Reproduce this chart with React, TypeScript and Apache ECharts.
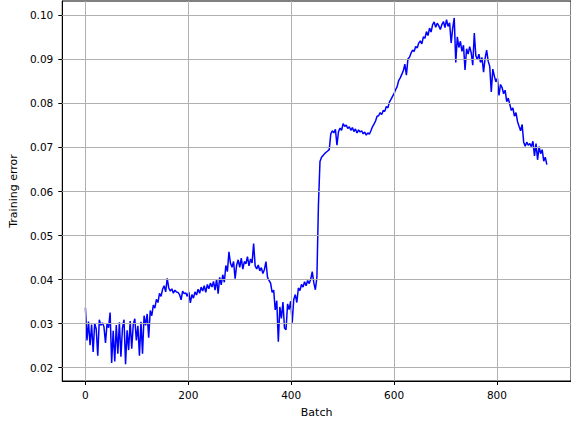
import React, { useEffect, useRef } from "react";
import * as echarts from "echarts";

// Training error, read every 3 batches (batch 0, 3, 6, ... 897)
const BATCH_STEP = 3;
const trainingError: number[] = [
  0.0336, 0.0262, 0.0305, 0.0251, 0.0298, 0.0236, 0.0301, 0.0288, 0.0227, 0.0309,
  0.0296, 0.0302, 0.0293, 0.0256, 0.0300, 0.0291, 0.0325, 0.0211, 0.0284, 0.0214,
  0.0297, 0.0232, 0.0303, 0.0225, 0.0290, 0.0309, 0.0208, 0.0285, 0.0240, 0.0306,
  0.0243, 0.0298, 0.0311, 0.0262, 0.0295, 0.0227, 0.0304, 0.0232, 0.0318, 0.0296,
  0.0322, 0.0268, 0.0330, 0.0318, 0.0342, 0.0335, 0.0355, 0.0348, 0.0369, 0.0362,
  0.0378, 0.0386, 0.0372, 0.0403, 0.0381, 0.0374, 0.0379, 0.0369, 0.0376, 0.0372,
  0.0371, 0.0366, 0.0354, 0.0374, 0.0368, 0.0370, 0.0362, 0.0372, 0.0347, 0.0366,
  0.0358, 0.0372, 0.0365, 0.0378, 0.0369, 0.0383, 0.0374, 0.0386, 0.0371, 0.0389,
  0.0379, 0.0392, 0.0383, 0.0396, 0.0376, 0.0401, 0.0368, 0.0405, 0.0388, 0.0411,
  0.0394, 0.0432, 0.0418, 0.0463, 0.0437, 0.0428, 0.0441, 0.0402, 0.0433, 0.0445,
  0.0428, 0.0449, 0.0424, 0.0441, 0.0436, 0.0452, 0.0431, 0.0447, 0.0438, 0.0482,
  0.0431, 0.0424, 0.0433, 0.0420, 0.0427, 0.0414, 0.0423, 0.0441, 0.0405, 0.0398,
  0.0392, 0.0371, 0.0376, 0.0331, 0.0352, 0.0259, 0.0338, 0.0312, 0.0349, 0.0290,
  0.0286, 0.0345, 0.0332, 0.0351, 0.0302, 0.0355, 0.0366, 0.0348, 0.0381, 0.0375,
  0.0389, 0.0383, 0.0395, 0.0386, 0.0398, 0.0391, 0.0401, 0.0418, 0.0393, 0.0377,
  0.0405, 0.0570, 0.0668, 0.0678, 0.0682, 0.0686, 0.0689, 0.0692, 0.0695, 0.0731,
  0.0738, 0.0733, 0.0741, 0.0705, 0.0736, 0.0744, 0.0739, 0.0754, 0.0748, 0.0751,
  0.0743, 0.0747, 0.0739, 0.0745, 0.0736, 0.0742, 0.0733, 0.0740, 0.0735, 0.0738,
  0.0731, 0.0735, 0.0728, 0.0733, 0.0730, 0.0738, 0.0747, 0.0753, 0.0760, 0.0771,
  0.0772, 0.0779, 0.0775, 0.0784, 0.0782, 0.0793, 0.0790, 0.0803, 0.0809, 0.0816,
  0.0822, 0.0831, 0.0838, 0.0852, 0.0858, 0.0866, 0.0874, 0.0889, 0.0864, 0.0901,
  0.0905, 0.0914, 0.0921, 0.0918, 0.0929, 0.0926, 0.0937, 0.0942, 0.0935, 0.0951,
  0.0948, 0.0963, 0.0954, 0.0971, 0.0962, 0.0979, 0.0985, 0.0973, 0.0982, 0.0976,
  0.0968, 0.0979, 0.0986, 0.0972, 0.0990, 0.0975, 0.0983, 0.0937, 0.0971, 0.0994,
  0.0893, 0.0951, 0.0927, 0.0941, 0.0918, 0.0932, 0.0876, 0.0924, 0.0912, 0.0929,
  0.0915, 0.0887, 0.0960, 0.0908, 0.0899, 0.0912, 0.0893, 0.0904, 0.0871, 0.0902,
  0.0921, 0.0896, 0.0884, 0.0826, 0.0878, 0.0862, 0.0849, 0.0857, 0.0818, 0.0843,
  0.0836, 0.0822, 0.0830, 0.0804, 0.0812, 0.0798, 0.0784, 0.0790, 0.0771, 0.0779,
  0.0759, 0.0748, 0.0738, 0.0752, 0.0712, 0.0703, 0.0712, 0.0705, 0.0709, 0.0702,
  0.0714, 0.0681, 0.0709, 0.0672, 0.0702, 0.0686, 0.0695, 0.0669, 0.0678, 0.0661,
];

const xTicks = [0, 200, 400, 600, 800];
const yTicks = [0.02, 0.03, 0.04, 0.05, 0.06, 0.07, 0.08, 0.09, 0.1];
const X_MIN = -45;
const X_MAX = 944;
const Y_MIN = 0.01698;
const Y_MAX = 0.10325;

const FONT = "DejaVu Sans";

export default function App() {
  const ref = useRef<HTMLDivElement>(null);

  useEffect(() => {
    if (!ref.current) return;
    const chart = echarts.init(ref.current, null, { renderer: "svg" });
    const points = trainingError.map((v, i) => [i * BATCH_STEP, v]);

    chart.setOption({
      animation: false,
      backgroundColor: "#ffffff",
      grid: {
        left: 62,
        top: 1,
        width: 512,
        height: 380,
        show: true,
        borderColor: "#000000",
        borderWidth: 1,
        backgroundColor: "transparent",
      },
      xAxis: {
        type: "value",
        min: X_MIN,
        max: X_MAX,
        name: "Batch",
        nameLocation: "middle",
        nameGap: 26,
        nameTextStyle: { fontFamily: FONT, fontSize: 11, color: "#000" },
        axisLine: { show: true, onZero: false, lineStyle: { color: "#000", width: 1 } },
        axisTick: {
          show: true,
          inside: false,
          length: 4,
          customValues: xTicks,
          lineStyle: { color: "#000", width: 1 },
        },
        axisLabel: {
          show: true,
          customValues: xTicks,
          margin: 8,
          fontFamily: FONT,
          fontSize: 10.5,
          color: "#000",
          formatter: (v: number) => String(v),
        },
        splitLine: { show: false },
      },
      yAxis: {
        type: "value",
        min: Y_MIN,
        max: Y_MAX,
        name: "Training error",
        nameLocation: "middle",
        nameGap: 40,
        nameTextStyle: { fontFamily: FONT, fontSize: 11, color: "#000" },
        axisLine: { show: true, onZero: false, lineStyle: { color: "#000", width: 1 } },
        axisTick: {
          show: true,
          inside: false,
          length: 4,
          customValues: yTicks,
          lineStyle: { color: "#000", width: 1 },
        },
        axisLabel: {
          show: true,
          customValues: yTicks,
          margin: 9,
          fontFamily: FONT,
          fontSize: 10.5,
          color: "#000",
          formatter: (v: number) => v.toFixed(2),
        },
        splitLine: { show: false },
      },
      series: [
        {
          type: "line",
          name: "grid",
          data: [],
          z: 1,
          silent: true,
          markLine: {
            silent: true,
            symbol: "none",
            animation: false,
            label: { show: false },
            lineStyle: { color: "#b0b0b0", width: 1, type: "solid" },
            emphasis: { disabled: true },
            data: [
              ...xTicks.map((v) => ({ xAxis: v })),
              ...yTicks.map((v) => ({ yAxis: v })),
            ],
          },
        },
        {
          type: "line",
          name: "Training error",
          data: points,
          z: 3,
          showSymbol: false,
          symbol: "none",
          lineStyle: { color: "#0000ff", width: 1.5 },
          silent: true,
        },
      ],
    });

    return () => chart.dispose();
  }, []);

  return (
    <div
      ref={ref}
      style={{ position: "fixed", left: 0, top: 0, width: 571, height: 423, background: "#fff" }}
    />
  );
}
